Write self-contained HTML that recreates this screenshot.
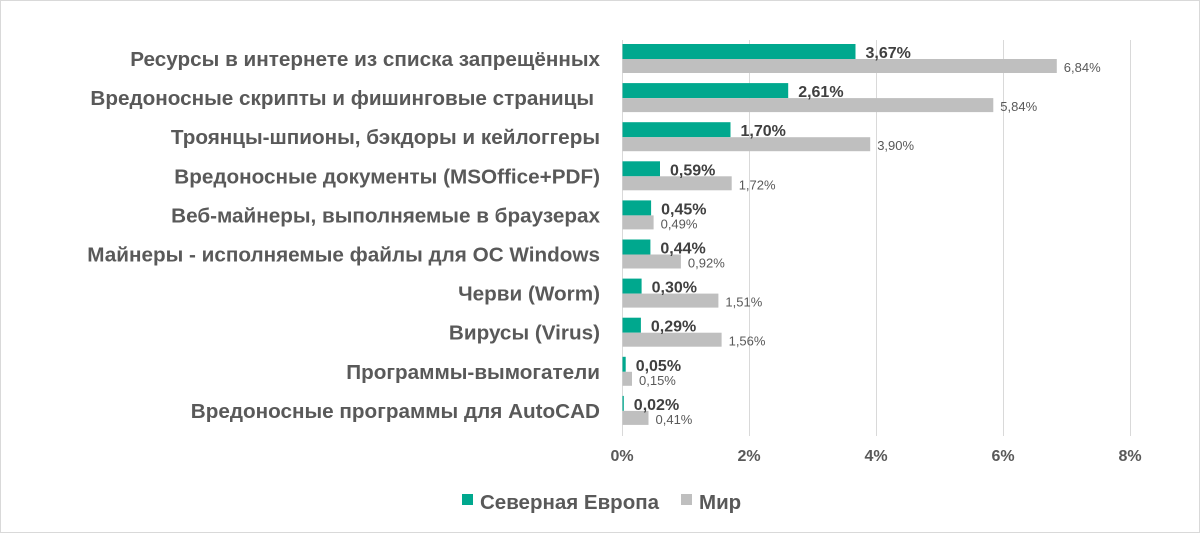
<!DOCTYPE html>
<html><head><meta charset="utf-8"><style>
html,body{margin:0;padding:0;background:#fff}
svg{display:block}
text{font-family:"Liberation Sans",sans-serif}
.c{font-size:20.7px;font-weight:bold;fill:#595959;text-anchor:end}
.a{font-size:16px;font-weight:bold;fill:#404040}
.b{font-size:13px;fill:#595959}
</style></head><body>
<svg width="1200" height="533" xmlns="http://www.w3.org/2000/svg">
<rect x="0.5" y="0.5" width="1199" height="532" fill="#fff" stroke="#d9d9d9"/>
<g stroke="#d9d9d9" stroke-width="1">
<line x1="749.5" y1="40" x2="749.5" y2="436"/>
<line x1="876.5" y1="40" x2="876.5" y2="436"/>
<line x1="1003.5" y1="40" x2="1003.5" y2="436"/>
<line x1="1130.5" y1="40" x2="1130.5" y2="436"/>
<line x1="622.5" y1="40" x2="622.5" y2="436"/>
</g>
<g fill="#00a88e">
<rect x="622.5" y="44" width="233" height="15"/>
<rect x="622.5" y="83.1" width="165.7" height="15"/>
<rect x="622.5" y="122.2" width="108" height="15"/>
<rect x="622.5" y="161.3" width="37.5" height="15"/>
<rect x="622.5" y="200.4" width="28.6" height="15"/>
<rect x="622.5" y="239.5" width="27.9" height="15"/>
<rect x="622.5" y="278.6" width="19.1" height="15"/>
<rect x="622.5" y="317.7" width="18.4" height="15"/>
<rect x="622.5" y="356.8" width="3.2" height="15"/>
<rect x="622.5" y="395.9" width="1.3" height="15"/>
</g>
<g fill="#bfbfbf">
<rect x="622.5" y="59" width="434.3" height="14"/>
<rect x="622.5" y="98.1" width="370.8" height="14"/>
<rect x="622.5" y="137.2" width="247.7" height="14"/>
<rect x="622.5" y="176.3" width="109.2" height="14"/>
<rect x="622.5" y="215.4" width="31.1" height="14"/>
<rect x="622.5" y="254.5" width="58.4" height="14"/>
<rect x="622.5" y="293.6" width="95.9" height="14"/>
<rect x="622.5" y="332.7" width="99.1" height="14"/>
<rect x="622.5" y="371.8" width="9.5" height="14"/>
<rect x="622.5" y="410.9" width="26" height="14"/>
</g>
<text class="a" x="865.5" y="58">3,67%</text>
<text class="a" x="798.2" y="97.1">2,61%</text>
<text class="a" x="740.5" y="136.2">1,70%</text>
<text class="a" x="670" y="175.3">0,59%</text>
<text class="a" x="661.1" y="214.4">0,45%</text>
<text class="a" x="660.4" y="253.5">0,44%</text>
<text class="a" x="651.6" y="292.6">0,30%</text>
<text class="a" x="650.9" y="331.7">0,29%</text>
<text class="a" x="635.7" y="370.8">0,05%</text>
<text class="a" x="633.8" y="409.9">0,02%</text>
<text class="b" x="1063.8" y="72">6,84%</text>
<text class="b" x="1000.3" y="111.1">5,84%</text>
<text class="b" x="877.2" y="150.2">3,90%</text>
<text class="b" x="738.7" y="189.3">1,72%</text>
<text class="b" x="660.6" y="228.4">0,49%</text>
<text class="b" x="687.9" y="267.5">0,92%</text>
<text class="b" x="725.4" y="306.6">1,51%</text>
<text class="b" x="728.6" y="345.7">1,56%</text>
<text class="b" x="639" y="384.8">0,15%</text>
<text class="b" x="655.5" y="423.9">0,41%</text>
<text class="c" x="600" y="66">Ресурсы в интернете из списка запрещённых</text>
<text class="c" x="594" y="105.1">Вредоносные скрипты и фишинговые страницы</text>
<text class="c" x="600" y="144.2">Троянцы-шпионы, бэкдоры и кейлоггеры</text>
<text class="c" x="600" y="183.3">Вредоносные документы (MSOffice+PDF)</text>
<text class="c" x="600" y="222.4">Веб-майнеры, выполняемые в браузерах</text>
<text class="c" x="600" y="261.5">Майнеры - исполняемые файлы для ОС Windows</text>
<text class="c" x="600" y="300.6">Черви (Worm)</text>
<text class="c" x="600" y="339.7">Вирусы (Virus)</text>
<text class="c" x="600" y="378.8">Программы-вымогатели</text>
<text class="c" x="600" y="417.9">Вредоносные программы для AutoCAD</text>
<g font-size="16" font-weight="bold" fill="#595959" text-anchor="middle">
<text x="622" y="461">0%</text><text x="749" y="461">2%</text><text x="876" y="461">4%</text><text x="1003" y="461">6%</text><text x="1130" y="461">8%</text>
</g>
<rect x="462" y="494" width="11" height="11" fill="#00a88e"/>
<text x="480" y="509" font-size="20.5" font-weight="bold" fill="#595959">Северная Европа</text>
<rect x="681" y="494" width="11" height="11" fill="#bfbfbf"/>
<text x="699" y="509" font-size="20.5" font-weight="bold" fill="#595959">Мир</text>
</svg>
</body></html>
